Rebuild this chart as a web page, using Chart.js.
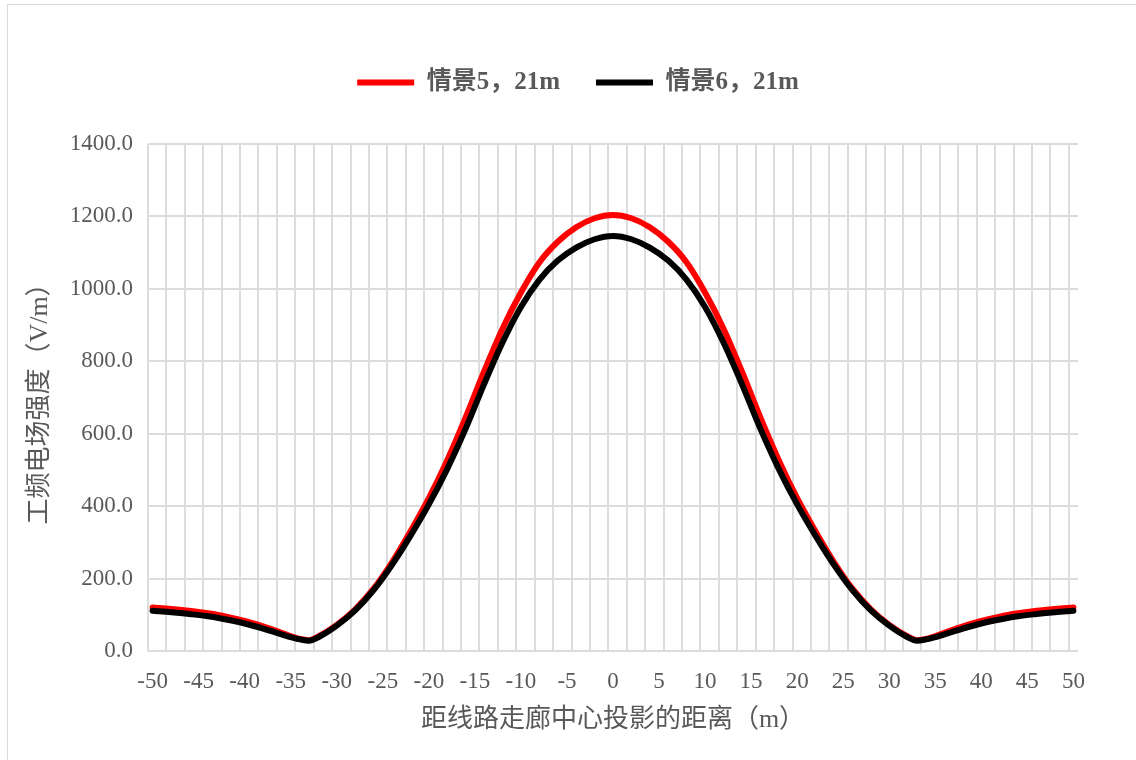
<!DOCTYPE html>
<html><head><meta charset="utf-8">
<script src="https://cdn.jsdelivr.net/npm/chart.js@4.4.1/dist/chart.umd.min.js"></script>
<style>
html,body{margin:0;padding:0;background:#fff;overflow:hidden;width:1136px;height:760px}
#frame{position:absolute;left:7px;top:4px;width:1200px;height:800px;border:1px solid #d9d9d9;box-sizing:border-box}
#c{position:absolute;left:0;top:0}
</style></head><body>
<div id="frame"></div>
<canvas id="c" width="1136" height="760"></canvas>
<script>
const xCategories = Array.from({length: 101}, (_, i) => String(i - 50));
const xTickLabels = ['-50','-45','-40','-35','-30','-25','-20','-15','-10','-5','0','5','10','15','20','25','30','35','40','45','50'];
const yTickValues = [0, 200, 400, 600, 800, 1000, 1200, 1400];

const seriesNames = ['情景5，21m', '情景6，21m'];
const distances = [-50,-48,-46,-44,-42,-40,-38,-36,-34,-33,-32,-30,-28,-26,-24,-22,-20,-18,-16,-14,-12,-10,-8,-6,-4,-2,
  0,2,4,6,8,10,12,14,16,18,20,22,24,26,28,30,32,33,34,36,38,40,42,44,46,48,50];
const scenario5 = [120,116,111,104,95,83,68,50,33,30,40,72,115,172,245,330,422,527,645,772,890,990,1073,1130,1170,1195,
  1204,1195,1170,1130,1073,990,890,772,645,527,422,330,245,172,115,72,40,30,33,50,68,83,95,104,111,116,120];
const scenario6 = [111,107,102,96,87,76,62,46,32,28,38,70,112,168,238,318,405,503,614,737,852,950,1025,1078,1114,1137,
  1146,1137,1114,1078,1025,950,852,737,614,503,405,318,238,168,112,70,38,28,32,46,62,76,87,96,102,107,111];

const GRID = '#dcdcdc';
const TEXT = '#595959';
const SERIF = "'Liberation Serif', 'Noto Sans CJK SC', serif";
const LEGEND_EXTRA = 39;
const LEGEND_SHIFT = 39;

Chart.defaults.color = TEXT;

const layoutTweak = {
  id: 'layoutTweak',
  beforeLayout(chart) {
    const lg = chart.legend;
    if (lg && !lg._tweaked) {
      const fit = lg.fit;
      lg.fit = function () { fit.call(this); this.height += LEGEND_EXTRA; };
      lg._tweaked = true;
    }
  },
  afterLayout(chart) {
    const lg = chart.legend;
    if (lg) { lg.left += LEGEND_SHIFT; lg.right += LEGEND_SHIFT; }
  }
};

const toPoints = (vals) => distances.map((d, i) => ({x: String(d), y: vals[i]}));

new Chart(document.getElementById('c'), {
  type: 'line',
  data: {
    labels: xCategories,
    datasets: [
      {label: seriesNames[0], data: toPoints(scenario5), borderColor: '#ff0000', backgroundColor: '#ff0000',
       borderWidth: 6, pointRadius: 0, cubicInterpolationMode: 'monotone', borderCapStyle: 'round', borderJoinStyle: 'round', order: 1},
      {label: seriesNames[1], data: toPoints(scenario6), borderColor: '#000000', backgroundColor: '#000000',
       borderWidth: 6, pointRadius: 0, cubicInterpolationMode: 'monotone', borderCapStyle: 'round', borderJoinStyle: 'round', order: 0}
    ]
  },
  options: {
    responsive: false,
    animation: false,
    devicePixelRatio: 1,
    layout: {padding: {top: 34, left: 0, right: 58, bottom: 0}},
    plugins: {
      tooltip: {enabled: false},
      legend: {
        position: 'top',
        labels: {
          usePointStyle: true, pointStyle: 'line', pointStyleWidth: 57, padding: 36,
          sort: (a, b) => a.datasetIndex - b.datasetIndex,
          color: TEXT, font: {family: SERIF, size: 25, weight: 'bold'}
        }
      }
    },
    scales: {
      x: {
        type: 'category',
        offset: true,
        grid: {offset: true, drawTicks: false, lineWidth: 2,
               color: (ctx) => (ctx.index % 2 === 0 ? GRID : 'rgba(0,0,0,0)')},
        border: {display: false},
        ticks: {
          autoSkip: false, maxRotation: 0, minRotation: 0, padding: 17, color: TEXT,
          font: {family: SERIF, size: 23},
          callback: function (v, i) { const lab = xCategories[i]; return xTickLabels.includes(lab) ? lab : ''; }
        },
        title: {display: true, text: '距线路走廊中心投影的距离（m）', color: TEXT,
                font: {family: SERIF, size: 26}, padding: {top: 0, bottom: 24}},
        afterFit: (s) => { s.height = 109; }
      },
      y: {
        type: 'linear',
        min: 0, max: 1400,
        afterBuildTicks: (s) => { s.ticks = yTickValues.map(v => ({value: v})); },
        grid: {color: GRID, lineWidth: 2, drawTicks: false},
        border: {display: false},
        ticks: {padding: 15, color: TEXT, font: {family: SERIF, size: 23},
                callback: (v) => Number(v).toFixed(1)},
        title: {display: true, text: '工频电场强度（V/m）', color: TEXT,
                font: {family: SERIF, size: 26}, padding: {top: 25, bottom: 0}},
        afterFit: (s) => { s.width = 148; }
      }
    }
  },
  plugins: [layoutTweak]
});
</script>
</body></html>
